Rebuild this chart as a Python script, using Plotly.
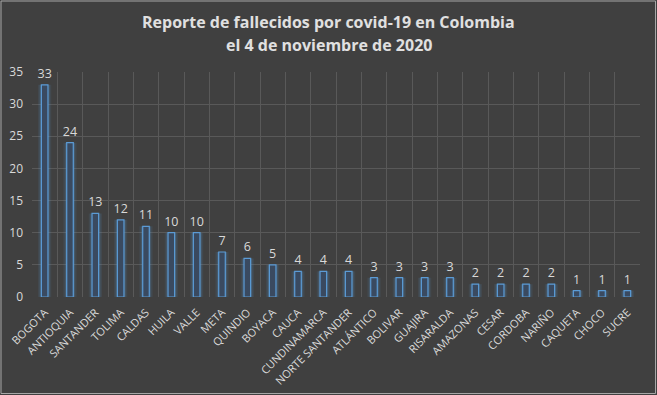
import plotly.graph_objects as go

categories = ["BOGOTA", "ANTIOQUIA", "SANTANDER", "TOLIMA", "CALDAS", "HUILA", "VALLE",
              "META", "QUINDIO", "BOYACA", "CAUCA", "CUNDINAMARCA", "NORTE SANTANDER",
              "ATLÁNTICO", "BOLIVAR", "GUAJIRA", "RISARALDA", "AMAZONAS", "CESAR",
              "CORDOBA", "NARIÑO", "CAQUETA", "CHOCO", "SUCRE"]
values = [33, 24, 13, 12, 11, 10, 10, 7, 6, 5, 4, 4, 4, 3, 3, 3, 3, 2, 2, 2, 2, 1, 1, 1]
y_ticks = [0, 5, 10, 15, 20, 25, 30, 35]
title_lines = ["Reporte de fallecidos por covid-19 en Colombia", "el 4 de noviembre de 2020"]

W, H = 657, 395
ml, mr, mt, mb = 32, 17, 72, 98
ph = H - mt - mb

fig = go.Figure()
# glow layers
for w, op in [(0.52, 0.10), (0.40, 0.20)]:
    fig.add_trace(go.Bar(x=categories, y=values, width=w,
                         marker=dict(color=f"rgba(91,155,213,{op})", line=dict(width=0)),
                         hoverinfo="skip", showlegend=False))
fig.add_trace(go.Bar(x=categories, y=values, width=0.26,
                     marker=dict(color="#3a4a60", line=dict(color="#5b9bd5", width=1.2)),
                     text=[str(v) for v in values], textposition="outside",
                     constraintext="none",
                     textfont=dict(color="#d9d9d9", size=12.5, family="Open Sans"),
                     cliponaxis=False, showlegend=False))

annotations = []
for i, (line, ypx) in enumerate(zip(title_lines, [22, 45])):
    annotations.append(dict(text=f"<b>{line}</b>", xref="paper", yref="paper",
                            x=0.5 - (ml - mr) / 2 / (W - ml - mr), xanchor="center",
                            y=(H - mb - ypx) / ph, yanchor="middle", showarrow=False,
                            font=dict(family="Open Sans", size=16, color="#e0e0e0")))

fig.update_layout(
    width=W, height=H,
    margin=dict(l=ml, r=mr, t=mt, b=mb),
    paper_bgcolor="#404040", plot_bgcolor="#404040",
    barmode="overlay",
    uniformtext=dict(mode=False),
    annotations=annotations,
    font=dict(family="Open Sans", color="#d9d9d9"),
    xaxis=dict(tickangle=-45, tickfont=dict(size=11, color="#d9d9d9"),
               showgrid=True, gridcolor="#595959", tickson="boundaries", ticklen=0,
               ticklabelstandoff=6,
               showline=False, zeroline=False, automargin=False,
               range=[-0.5, len(categories) - 0.5]),
    yaxis=dict(range=[0, 35], tickvals=y_ticks, tickfont=dict(size=12, color="#d9d9d9"),
               showgrid=True, gridcolor="#595959", zeroline=False, showline=False,
               ticks="", ticklabelstandoff=8, automargin=False),
    shapes=[dict(type="rect", xref="paper", yref="paper",
                 x0=-(ml - 1) / (W - ml - mr), x1=1 + (mr - 1.5) / (W - ml - mr),
                 y0=-(mb - 1.5) / ph, y1=1 + (mt - 1) / ph,
                 line=dict(color="#a6a6a6", width=1), layer="below")],
)

fig.write_html("out.html", config={"displayModeBar": False},
               post_script="document.body.style.margin='0';document.body.style.overflow='hidden';")
